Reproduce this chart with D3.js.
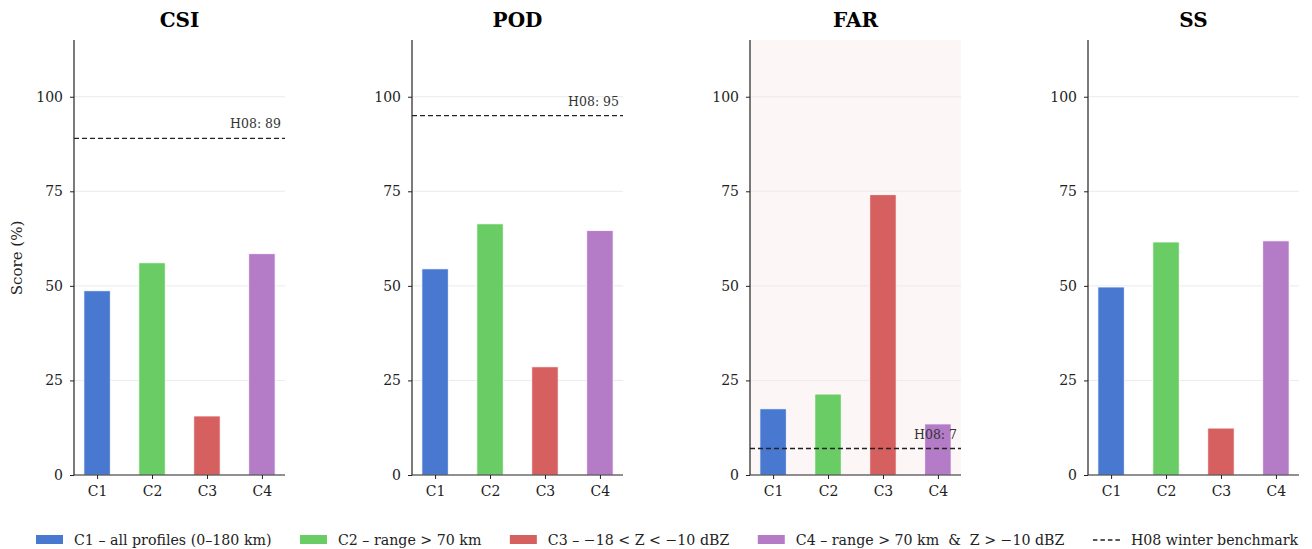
<!DOCTYPE html>
<html>
<head>
  <meta charset="utf-8">
  <script src="https://cdn.jsdelivr.net/npm/d3@7"></script>
  <style>
    body { margin: 0; background: #fff; }
    text { font-family: "DejaVu Serif", serif; }
  </style>
</head>
<body>
  <div id="chart"></div>
  <script>
    // data
    const metrics = ["CSI", "POD", "FAR", "SS"];
    const classes = ["C1", "C2", "C3", "C4"];
    const csi = [48.7, 56.1, 15.6, 58.5];
    const pod = [54.5, 66.4, 28.6, 64.6];
    const far = [17.5, 21.4, 74.1, 13.5];
    const ss = [49.7, 61.6, 12.4, 61.9];
    const benchmarks = [89, 95, 7, null];
    const yTicks = [0, 25, 50, 75, 100];
    const legendLabels = [
      "C1 – all profiles (0–180 km)",
      "C2 – range > 70 km",
      "C3 – −18 < Z < −10 dBZ",
      "C4 – range > 70 km  &  Z > −10 dBZ"
    ];
    const colors = ["#4878d0", "#6acc64", "#d65f5f", "#b47cc7"];

    const series = [csi, pod, far, ss];
    const w = 1312, h = 549;
    const panelLeft = [74, 412, 750, 1088];
    const panelW = 211;
    const plotTop = 40, plotBottom = 475;

    const svg = d3.select("#chart").append("svg")
      .attr("width", w).attr("height", h);

    const y = d3.scaleLinear().domain([0, 115]).range([plotBottom, plotTop]);

    metrics.forEach(function (m, i) {
      const x = d3.scaleLinear().domain([-0.42, 3.42])
        .range([panelLeft[i], panelLeft[i] + panelW]);
      const g = svg.append("g");

      // FAR gets a tinted background
      if (m === "FAR") {
        g.append("rect")
          .attr("x", x(-0.42)).attr("y", plotTop)
          .attr("width", panelW).attr("height", plotBottom - plotTop)
          .attr("fill", "#fdf6f6");
      }

      // grid
      g.selectAll(".grid").data(yTicks.slice(1)).enter()
        .append("line")
        .attr("x1", x(-0.42)).attr("x2", x(3.42))
        .attr("y1", d => y(d)).attr("y2", d => y(d))
        .attr("stroke", "#ebebeb").attr("stroke-width", 1);

      // bars
      const bw = x(0.48) - x(0);
      g.selectAll(".bar").data(series[i]).enter()
        .append("rect")
        .attr("x", (d, j) => x(j) - bw / 2)
        .attr("y", d => y(d))
        .attr("width", bw)
        .attr("height", d => y(0) - y(d))
        .attr("fill", (d, j) => colors[j])
        .attr("stroke", "#fff").attr("stroke-width", 0.8);

      // benchmark line
      if (benchmarks[i] !== null) {
        g.append("line")
          .attr("x1", x(-0.42)).attr("x2", x(3.42))
          .attr("y1", y(benchmarks[i])).attr("y2", y(benchmarks[i]))
          .attr("stroke", "#222").attr("stroke-width", 1.3)
          .attr("stroke-dasharray", "5,3");
        g.append("text")
          .attr("x", x(3.42) - 4)
          .attr("y", y(benchmarks[i]) - 10)
          .attr("text-anchor", "end")
          .attr("font-size", 12.5)
          .attr("fill", "#333")
          .text("H08: " + benchmarks[i]);
      }

      // axes
      const yAxis = d3.axisLeft(y).tickValues(yTicks).tickSize(4).tickPadding(7);
      const ya = g.append("g").attr("transform", `translate(${x(-0.42)},0)`).call(yAxis);
      ya.select(".domain").attr("d", `M0,${plotTop}V${plotBottom}`).attr("stroke", "#222").attr("stroke-width", 1.2);

      const xAxis = d3.axisBottom(x).tickValues([0, 1, 2, 3])
        .tickFormat(d => classes[d]).tickSize(4).tickPadding(7);
      const xa = g.append("g").attr("transform", `translate(0,${plotBottom})`).call(xAxis);
      xa.select(".domain").attr("d", `M${x(-0.42)},0H${x(3.42)}`).attr("stroke", "#222").attr("stroke-width", 1.2);

      [ya, xa].forEach(a => {
        a.attr("font-family", "DejaVu Serif").attr("font-size", 14);
        a.selectAll("text").attr("fill", "#222");
        a.selectAll(".tick line").attr("stroke", "#222");
      });

      // title
      g.append("text")
        .attr("x", x(1.5)).attr("y", 27)
        .attr("text-anchor", "middle")
        .attr("font-size", 20).attr("font-weight", "bold")
        .text(m);
    });

    // y label
    svg.append("text")
      .attr("transform", "translate(22,258) rotate(-90)")
      .attr("text-anchor", "middle")
      .attr("font-size", 15)
      .attr("fill", "#222")
      .text("Score (%)");

    // legend
    const legend = svg.append("g").attr("transform", "translate(0,540)");
    let lx = 36;
    const items = legendLabels.map((l, j) => ({ label: l, color: colors[j], dash: false }));
    items.push({ label: "H08 winter benchmark", color: "#222", dash: true });
    items.forEach(function (it) {
      if (it.dash) {
        legend.append("line")
          .attr("x1", lx).attr("x2", lx + 28)
          .attr("y1", 0).attr("y2", 0)
          .attr("stroke", it.color).attr("stroke-width", 1.3)
          .attr("stroke-dasharray", "4.5,3");
      } else {
        legend.append("rect")
          .attr("x", lx).attr("y", -5)
          .attr("width", 27).attr("height", 9)
          .attr("fill", it.color);
      }
      const t = legend.append("text")
        .attr("x", lx + 38).attr("y", 5)
        .attr("font-size", 14.2)
        .attr("fill", "#222")
        .attr("xml:space", "preserve")
        .style("white-space", "pre")
        .text(it.label);
      lx += 38 + t.node().getComputedTextLength() + 28.5;
    });
  </script>
</body>
</html>
